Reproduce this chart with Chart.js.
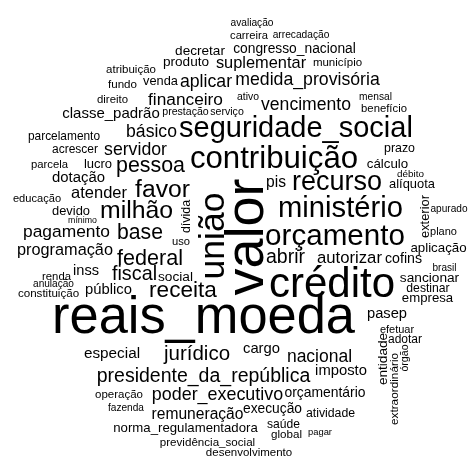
<!DOCTYPE html>
<html>
<head>
<meta charset="utf-8">
<script src="https://cdn.jsdelivr.net/npm/chart.js@4"></script>
<style>
  body { margin: 0; background: #fff; }
  #wrap { width: 470px; height: 457px; }
</style>
</head>
<body>
<div id="wrap"><canvas id="cloud"></canvas></div>
<script>
// word cloud data: term, weight (font px), cloud position (midpoint of baseline), rotation
const words = [
  'avaliação', 'carreira', 'arrecadação', 'congresso_nacional', 'decretar', 'produto',
  'suplementar', 'município', 'atribuição', 'fundo', 'venda', 'aplicar',
  'medida_provisória', 'ativo', 'direito', 'financeiro', 'vencimento', 'mensal',
  'benefício', 'classe_padrão', 'prestação', 'serviço', 'básico', 'seguridade_social',
  'parcelamento', 'acrescer', 'servidor', 'contribuição', 'prazo', 'parcela',
  'lucro', 'pessoa', 'dotação', 'educação', 'atender', 'favor',
  'devido', 'mínimo', 'milhão', 'pagamento', 'base', 'uso',
  'programação', 'federal', 'inss', 'renda', 'fiscal', 'social',
  'anulação', 'constituição', 'público', 'receita', 'cálculo', 'débito',
  'pis', 'recurso', 'alíquota', 'ministério', 'apurado', 'orçamento',
  'plano', 'aplicação', 'abrir', 'autorizar', 'cofins', 'brasil',
  'crédito', 'sancionar', 'destinar', 'empresa', 'reais_moeda', 'especial',
  'jurídico', 'presidente_da_república', 'operação', 'poder_executivo', 'fazenda', 'remuneração',
  'execução', 'atividade', 'norma_regulamentadora', 'saúde', 'global', 'pagar',
  'previdência_social', 'desenvolvimento', 'pasep', 'efetuar', 'adotar', 'cargo',
  'nacional', 'imposto', 'orçamentário',
  'dívida', 'união', 'valor', 'exterior', 'entidade', 'extraordinário', 'órgão'
];

const weights = [
  10.2, 11.2, 10.2, 13.8, 13.6, 13.6,
  16.4, 11.5, 11.5, 11.6, 12.8, 17.7,
  17.7, 10.4, 11.4, 17.3, 17.6, 10.2,
  11.3, 15.0, 10.6, 10.6, 17.6, 29.0,
  11.9, 12.0, 17.7, 31.2, 12.4, 11.3,
  13.0, 21.4, 14.9, 11.1, 16.5, 24.7,
  12.9, 8.8, 24.8, 17.4, 21.2, 11.2,
  16.3, 21.6, 14.6, 11.3, 19.8, 13.7,
  10.1, 11.6, 14.8, 22.6, 13.3, 9.9,
  15.6, 27.0, 12.9, 29.2, 10.1, 29.6,
  11.0, 13.3, 19.5, 16.7, 14.2, 10.0,
  42.0, 13.7, 12.2, 13.2, 52.4, 15.3,
  20.5, 19.5, 11.5, 17.9, 10.1, 15.6,
  13.8, 12.3, 13.2, 12.1, 11.6, 9.4,
  11.6, 11.5, 14.7, 11.0, 12.0, 14.8,
  17.5, 14.8, 13.9,
  12.4, 35.5, 54.0, 12.9, 13.6, 11.8, 10.6
];

const cloudX = [
  252, 249, 301, 294.5, 200, 186,
  261, 337.5, 131, 122.5, 160.5, 206,
  307.5, 248, 112.5, 185.5, 306, 375.5,
  384, 111, 185.5, 227, 151.5, 296,
  64, 75, 135.5, 274, 399.5, 49.5,
  98, 150.5, 78.5, 37, 99, 162.5,
  71, 82.5, 136.5, 66.5, 140, 181,
  65, 150, 86, 56.5, 134.5, 175.5,
  53.5, 48.5, 108.5, 183, 387.5, 410.5,
  276, 337, 412, 340.5, 449, 335,
  443.5, 438.5, 285.5, 349.5, 403.5, 444.5,
  332, 429.5, 428, 427.5, 203.5, 112,
  197, 203.5, 119, 217.5, 126, 197.5,
  272.5, 330.5, 185.5, 283.5, 286.5, 320,
  207.5, 249, 387, 397, 405, 261.5,
  319.5, 341, 325,
  190, 223.5, 263, 429, 387, 398, 408
];

const cloudY = [
  26, 39, 38, 53, 55, 66,
  68, 66, 73, 88, 85, 87,
  85, 100, 103, 105, 110, 100,
  112, 118, 115, 115, 137, 137,
  140, 153, 155, 168, 152, 168,
  168, 172, 182, 202, 198, 197,
  215, 223, 218, 237, 239, 245,
  255, 265, 275, 280, 280, 281,
  287, 297, 294, 297, 168, 177,
  187, 190, 188, 217, 212, 245,
  235, 252, 263, 263, 263, 271,
  297, 282, 292, 302, 333, 358,
  360, 382, 398, 400, 411, 419,
  413, 417, 432, 428, 438, 435,
  446, 456, 318, 333, 343, 353,
  362, 375, 397,
  216.5, 236, 237, 216.5, 359, 389, 358
];

// 1 = written bottom-to-top
const vertical = words.map((w, i) => i >= words.length - 7 ? 1 : 0);

const fontFamily = '"Liberation Sans", Arial, sans-serif';

// draws each word at its point through the chart scales
const wordPlugin = {
  id: 'wordPlugin',
  afterDatasetsDraw(chart) {
    const ctx = chart.ctx;
    const xs = chart.scales.x;
    const ys = chart.scales.y;
    ctx.save();
    ctx.fillStyle = '#000';
    ctx.textAlign = 'center';
    ctx.textBaseline = 'alphabetic';
    chart.data.datasets[0].data.forEach((pt) => {
      const px = xs.getPixelForValue(pt.x);
      const py = ys.getPixelForValue(pt.y);
      ctx.save();
      ctx.translate(px, py);
      if (pt.rot) ctx.rotate(-Math.PI / 2);
      ctx.font = pt.size + 'px ' + fontFamily;
      ctx.fillText(pt.word, 0, 0);
      ctx.restore();
    });
    ctx.restore();
  }
};

const points = words.map((w, i) => ({
  x: cloudX[i], y: cloudY[i], word: w, size: weights[i], rot: vertical[i]
}));

new Chart(document.getElementById('cloud'), {
  type: 'scatter',
  data: {
    datasets: [{
      data: points,
      pointRadius: 0,
      pointHoverRadius: 0
    }]
  },
  options: {
    responsive: true,
    maintainAspectRatio: false,
    animation: false,
    layout: { padding: 0 },
    events: [],
    plugins: {
      legend: { display: false },
      tooltip: { enabled: false }
    },
    scales: {
      x: { type: 'linear', min: 0, max: 470, display: false },
      y: { type: 'linear', min: 0, max: 457, reverse: true, display: false }
    }
  },
  plugins: [wordPlugin]
});
</script>
</body>
</html>
